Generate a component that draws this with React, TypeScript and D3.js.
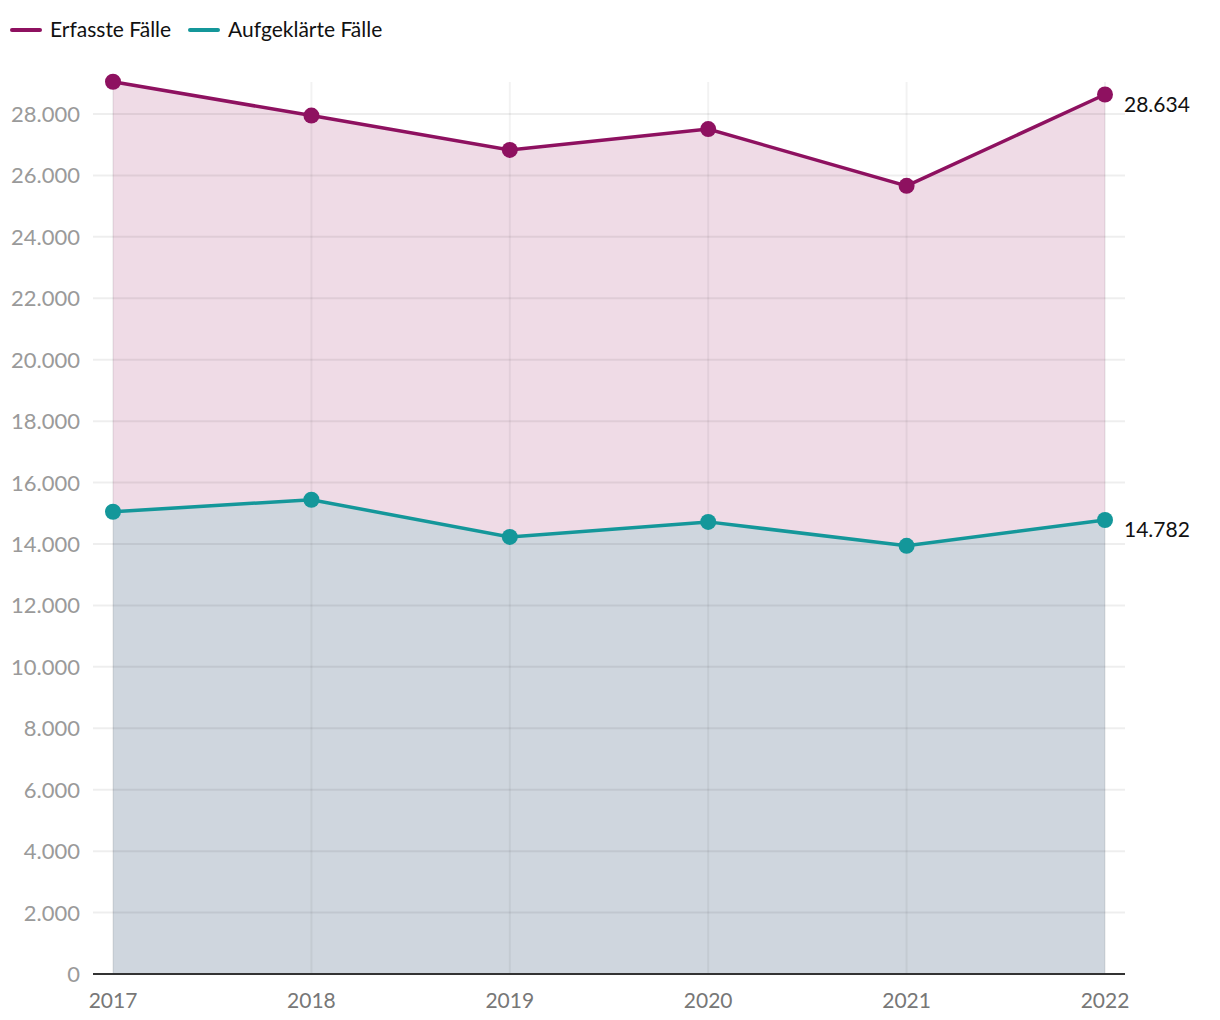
import React from "react";
import * as d3 from "d3";

const width = 1220;
const height = 1020;
const margin = { top: 60, right: 95, bottom: 46, left: 93 };

const years = ["2017", "2018", "2019", "2020", "2021", "2022"];
const erfasst = [29050, 27950, 26830, 27510, 25660, 28634];
const aufgeklaert = [15050, 15440, 14230, 14720, 13940, 14782];
const yTicks = [0, 2000, 4000, 6000, 8000, 10000, 12000, 14000, 16000, 18000, 20000, 22000, 24000, 26000, 28000];

const colErf = "#8e1160";
const colAuf = "#14979a";
const font = "Lato, 'Noto Sans', sans-serif";

const fmt = (v: number) => d3.format(",")(v).replace(/,/g, ".");

export default function App() {
  const x = d3
    .scalePoint()
    .domain(years)
    .range([113, 1105]);
  const y = d3
    .scaleLinear()
    .domain([0, 28000])
    .range([974, 114]);

  const baseY = y(0);
  const areaGen = d3
    .area<number>()
    .x((_, i) => x(years[i]) as number)
    .y0(baseY)
    .y1((d) => y(d));
  const lineGen = d3
    .line<number>()
    .x((_, i) => x(years[i]) as number)
    .y((d) => y(d));

  return (
    <svg width={width} height={height} style={{ display: "block", margin: -8 }}>
      {/* legend */}
      <g fontFamily={font} fontSize={21} fill="#111">
        <line x1={12} x2={40} y1={30} y2={30} stroke={colErf} strokeWidth={4} strokeLinecap="round" />
        <text x={50} y={37}>Erfasste Fälle</text>
        <line x1={190} x2={218} y1={30} y2={30} stroke={colAuf} strokeWidth={4} strokeLinecap="round" />
        <text x={228} y={37}>Aufgeklärte Fälle</text>
      </g>

      {/* areas */}
      <path d={areaGen(erfasst) || ""} fill="#efdbe6" />
      <path d={areaGen(aufgeklaert) || ""} fill="#cfd6de" />

      {/* grid */}
      <g>
        {yTicks.slice(1).map((t) => (
          <line key={t} x1={margin.left} x2={1125} y1={y(t)} y2={y(t)} stroke="#000" strokeOpacity={0.065} strokeWidth={2} />
        ))}
        {years.map((yr) => (
          <line key={yr} x1={x(yr)} x2={x(yr)} y1={82} y2={baseY} stroke="#000" strokeOpacity={0.05} strokeWidth={2} />
        ))}
      </g>

      {/* y labels */}
      <g fontFamily={font} fontSize={22} fill="#9a9a9a" textAnchor="end">
        {yTicks.map((t) => (
          <text key={t} x={80} y={y(t) + 8}>{fmt(t)}</text>
        ))}
      </g>

      {/* baseline */}
      <line x1={margin.left} x2={1125} y1={baseY} y2={baseY} stroke="#333" strokeWidth={2} />

      {/* x labels */}
      <g fontFamily={font} fontSize={21} fill="#777" textAnchor="middle">
        {years.map((yr) => (
          <text key={yr} x={x(yr)} y={1008}>{yr}</text>
        ))}
      </g>

      {/* lines */}
      <path d={lineGen(erfasst) || ""} fill="none" stroke={colErf} strokeWidth={3.5} />
      <path d={lineGen(aufgeklaert) || ""} fill="none" stroke={colAuf} strokeWidth={3.5} />
      {erfasst.map((v, i) => (
        <circle key={"e" + i} cx={x(years[i])} cy={y(v)} r={8} fill={colErf} />
      ))}
      {aufgeklaert.map((v, i) => (
        <circle key={"a" + i} cx={x(years[i])} cy={y(v)} r={8} fill={colAuf} />
      ))}

      {/* end labels */}
      <g fontFamily={font} fontSize={21} fill="#111">
        <text x={1124} y={y(erfasst[5]) + 17}>{fmt(erfasst[5])}</text>
        <text x={1124} y={y(aufgeklaert[5]) + 17}>{fmt(aufgeklaert[5])}</text>
      </g>
    </svg>
  );
}
